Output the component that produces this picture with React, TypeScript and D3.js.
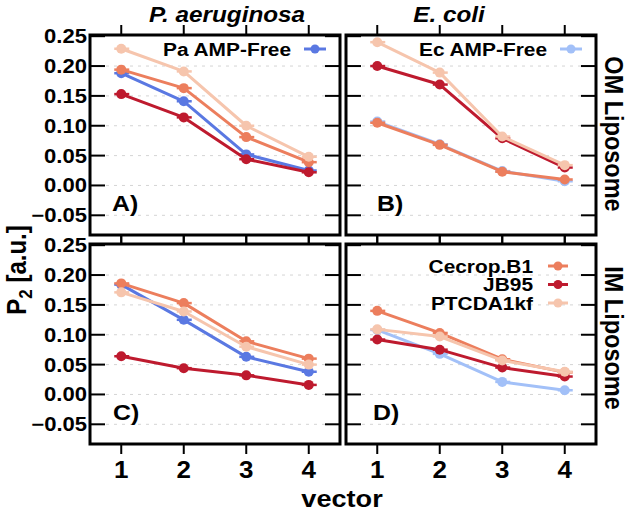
import React from 'react';
import * as d3 from 'd3';

// ---------- data ----------
const vectors = [1, 2, 3, 4];
const xTickLabels = ['1', '2', '3', '4'];
const yTickValues = [-0.05, 0, 0.05, 0.1, 0.15, 0.2, 0.25];
const gridValues = [-0.05, 0, 0.05, 0.1, 0.15, 0.2];
const colTitles = ['P. aeruginosa', 'E. coli'];
const rowTitles = ['OM Liposome', 'IM Liposome'];
const panelLetters = ['A)', 'B)', 'C)', 'D)'];
const peptideNames = ['Cecrop.B1', 'JB95', 'PTCDA1kf'];
const freeNames = ['Pa AMP-Free', 'Ec AMP-Free'];

// Panel A: P. aeruginosa, OM liposome
const paFreeOM = [0.188, 0.141, 0.052, 0.025];
const cecropPaOM = [0.194, 0.163, 0.081, 0.039];
const jb95PaOM = [0.153, 0.114, 0.044, 0.022];
const ptcdaPaOM = [0.229, 0.191, 0.1, 0.048];
// Panel B: E. coli, OM liposome
const ecFreeOM = [0.107, 0.069, 0.024, 0.007];
const cecropEcOM = [0.105, 0.068, 0.023, 0.01];
const jb95EcOM = [0.2, 0.169, 0.079, 0.03];
const ptcdaEcOM = [0.24, 0.189, 0.082, 0.034];
// Panel C: P. aeruginosa, IM liposome
const paFreeIM = [0.184, 0.125, 0.063, 0.038];
const cecropPaIM = [0.186, 0.153, 0.089, 0.06];
const jb95PaIM = [0.064, 0.044, 0.032, 0.016];
const ptcdaPaIM = [0.171, 0.139, 0.08, 0.05];
// Panel D: E. coli, IM liposome
const ecFreeIM = [0.108, 0.068, 0.021, 0.007];
const cecropEcIM = [0.14, 0.103, 0.059, 0.037];
const jb95EcIM = [0.092, 0.075, 0.045, 0.03];
const ptcdaEcIM = [0.109, 0.097, 0.057, 0.038];

// ---------- style ----------
const COL = {
  paFree: '#5a78e2',
  ecFree: '#a2c0f8',
  cecrop: '#ec7e5d',
  jb95: '#be1a2e',
  ptcda: '#f6c5ad',
};
const FONT = '"Liberation Sans", Arial, Helvetica, sans-serif';
const SX = 1.13; // horizontal stretch of the reference text

const colX = [90, 346];
const rowY = [35, 244];
const PW = 250;
const PH = 200;

type Series = { name: string; color: string; values: number[] };

const panels = [
  {
    col: 0, row: 0, letter: panelLetters[0], lx: 112,
    series: [
      { name: freeNames[0], color: COL.paFree, values: paFreeOM },
      { name: peptideNames[0], color: COL.cecrop, values: cecropPaOM },
      { name: peptideNames[1], color: COL.jb95, values: jb95PaOM },
      { name: peptideNames[2], color: COL.ptcda, values: ptcdaPaOM },
    ] as Series[],
    legend: [0],
  },
  {
    col: 1, row: 0, letter: panelLetters[1], lx: 377,
    series: [
      { name: freeNames[1], color: COL.ecFree, values: ecFreeOM },
      { name: peptideNames[0], color: COL.cecrop, values: cecropEcOM },
      { name: peptideNames[1], color: COL.jb95, values: jb95EcOM },
      { name: peptideNames[2], color: COL.ptcda, values: ptcdaEcOM },
    ] as Series[],
    legend: [0],
  },
  {
    col: 0, row: 1, letter: panelLetters[2], lx: 113,
    series: [
      { name: freeNames[0], color: COL.paFree, values: paFreeIM },
      { name: peptideNames[0], color: COL.cecrop, values: cecropPaIM },
      { name: peptideNames[1], color: COL.jb95, values: jb95PaIM },
      { name: peptideNames[2], color: COL.ptcda, values: ptcdaPaIM },
    ] as Series[],
    legend: [],
  },
  {
    col: 1, row: 1, letter: panelLetters[3], lx: 373,
    series: [
      { name: freeNames[1], color: COL.ecFree, values: ecFreeIM },
      { name: peptideNames[0], color: COL.cecrop, values: cecropEcIM },
      { name: peptideNames[1], color: COL.jb95, values: jb95EcIM },
      { name: peptideNames[2], color: COL.ptcda, values: ptcdaEcIM },
    ] as Series[],
    legend: [1, 2, 3],
  },
];

function T(props: {
  x: number; y: number; size: number; anchor?: string; rotate?: number;
  italic?: boolean; children: React.ReactNode; dy?: string;
}) {
  const r = props.rotate || 0;
  const sc = r === 0 ? `scale(${SX},1)` : `scale(1,${SX})`;
  return (
    <g transform={`translate(${props.x},${props.y}) rotate(${r}) ${sc}`}>
      <text
        textAnchor={props.anchor || 'start'}
        fontFamily={FONT}
        fontWeight="bold"
        fontStyle={props.italic ? 'italic' : 'normal'}
        fontSize={props.size}
        dy={props.dy}
        fill="#000"
      >
        {props.children}
      </text>
    </g>
  );
}

function Panel({ p }: { p: (typeof panels)[number] }) {
  const x0 = colX[p.col];
  const y0 = rowY[p.row];
  const x = d3.scaleLinear().domain([0.5, 4.5]).range([x0, x0 + PW]);
  const y = d3.scaleLinear().domain([-0.083, 0.252]).range([y0 + PH, y0]);
  const line = d3
    .line<number>()
    .x((_, i) => x(vectors[i]))
    .y((d) => y(d));
  const legendRows = p.legend.map((si, k) => ({ s: p.series[si], k }));
  const isBR = p.legend.length > 1;
  return (
    <g>
      {gridValues.map((v) => (
        <line key={'g' + v} x1={x0} x2={x0 + PW} y1={y(v)} y2={y(v)}
          stroke="#d4d4d4" strokeWidth={1} strokeDasharray="3,5" />
      ))}
      {p.series.map((s) => (
        <g key={s.name}>
          <path d={line(s.values) || ''} fill="none" stroke={s.color} strokeWidth={3} strokeLinejoin="round" />
          {s.values.map((v, i) => (
            <g key={i}>
              <line x1={x(vectors[i]) - 7} x2={x(vectors[i]) + 8} y1={y(v)} y2={y(v)} stroke={s.color} strokeWidth={2.5} />
              <circle cx={x(vectors[i])} cy={y(v)} r={5} fill={s.color} />
            </g>
          ))}
        </g>
      ))}
      {/* y ticks inward both sides */}
      {yTickValues.map((v) => (
        <g key={'yt' + v}>
          <line x1={x0} x2={x0 + 15} y1={y(v)} y2={y(v)} stroke="#000" strokeWidth={2} />
          <line x1={x0 + PW - 15} x2={x0 + PW} y1={y(v)} y2={y(v)} stroke="#000" strokeWidth={2} />
        </g>
      ))}
      {/* x ticks outward top and bottom */}
      {vectors.map((v) => (
        <g key={'xt' + v}>
          <line x1={x(v)} x2={x(v)} y1={y0} y2={y0 - 10} stroke="#000" strokeWidth={2} />
          <line x1={x(v)} x2={x(v)} y1={y0 + PH} y2={y0 + PH + 10} stroke="#000" strokeWidth={2} />
        </g>
      ))}
      <rect x={x0} y={y0} width={PW} height={PH} fill="none" stroke="#000" strokeWidth={3} />
      {p.col === 0 &&
        yTickValues.map((v) => (
          <T key={'yl' + v} x={87} y={y(v)} size={19.5} anchor="end" dy="0.36em">
            {d3.format('.2f')(v)}
          </T>
        ))}
      {p.row === 1 &&
        vectors.map((v, i) => (
          <T key={'xl' + v} x={x(v)} y={478} size={23} anchor="middle">
            {xTickLabels[i]}
          </T>
        ))}
      {legendRows.map(({ s, k }) => {
        const ly = isBR ? y0 + 22 + k * 18.5 : y0 + 14;
        const tx = isBR ? x0 + 187 : x0 + PW - 49;
        const l1 = isBR ? x0 + 202 : x0 + PW - 36;
        const l2 = isBR ? x0 + 222 : x0 + PW - 14;
        return (
          <g key={'lg' + s.name}>
            <T x={tx} y={ly} size={18.5} anchor="end" dy="0.36em">{s.name}</T>
            <line x1={l1} x2={l2} y1={ly} y2={ly} stroke={s.color} strokeWidth={3} />
            <circle cx={(l1 + l2) / 2} cy={ly} r={4.5} fill={s.color} />
          </g>
        );
      })}
      <T x={p.lx} y={y0 + 176} size={22}>{p.letter}</T>
    </g>
  );
}

export default function App() {
  return (
    <svg width={629} height={515} style={{ position: 'absolute', left: 0, top: 0, background: '#fff' }}>
      <rect x={0} y={0} width={629} height={515} fill="#fff" />
      {panels.map((p) => (
        <Panel key={p.letter} p={p} />
      ))}
      <T x={227} y={22} size={21.5} anchor="middle" italic>{colTitles[0]}</T>
      <T x={449} y={22} size={21.5} anchor="middle" italic>{colTitles[1]}</T>
      <T x={605} y={134} size={23.5} anchor="middle" rotate={90}>{rowTitles[0]}</T>
      <T x={605} y={338} size={23.5} anchor="middle" rotate={90}>{rowTitles[1]}</T>
      <T x={26} y={270} size={24} anchor="middle" rotate={-90}>
        P<tspan fontSize={17} dy="5">2</tspan><tspan dy="-5"> [a.u.]</tspan>
      </T>
      <T x={342} y={507} size={24} anchor="middle">vector</T>
    </svg>
  );
}
